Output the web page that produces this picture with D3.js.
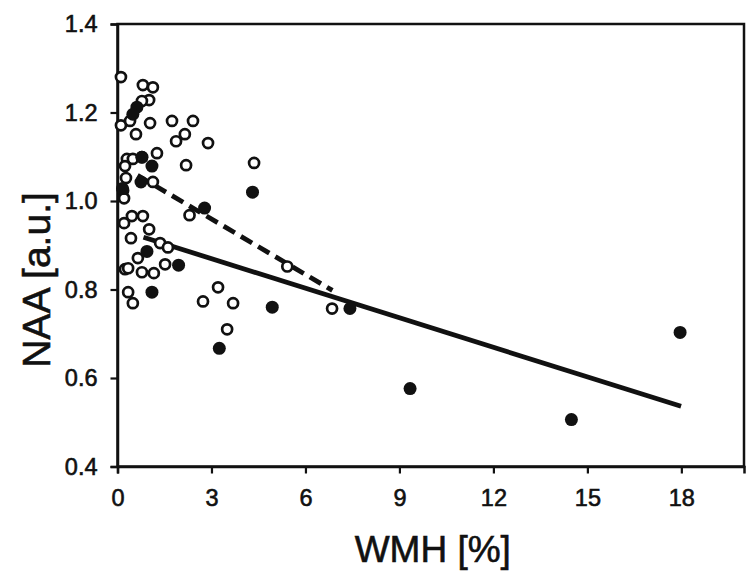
<!DOCTYPE html>
<html><head><meta charset="utf-8">
<script src="https://cdn.jsdelivr.net/npm/d3@7"></script>
<style>
html,body{margin:0;padding:0;background:#fff;}
svg{display:block;}
text{font-family:"Liberation Sans",Arial,sans-serif;fill:#111;}
</style></head><body>
<svg id="chart" width="756" height="577"></svg>
<script>
// Open circles: WMH [%] and NAA [a.u.]
const openX = [0.11,0.81,1.13,1.01,0.78,0.11,0.40,1.04,0.59,1.74,2.41,2.15,1.87,2.89,4.36,2.19,1.26,0.30,0.49,0.78,0.24,0.27,1.13,0.18,0.21,2.30,0.21,0.46,0.81,1.01,0.43,1.36,1.61,0.65,1.52,0.24,0.34,0.78,1.16,5.42,3.21,0.34,0.49,2.73,3.69,3.50,6.85];
const openY = [1.280,1.262,1.257,1.228,1.226,1.171,1.181,1.176,1.151,1.181,1.181,1.151,1.135,1.131,1.086,1.081,1.108,1.095,1.095,1.099,1.079,1.052,1.043,1.024,1.006,0.968,0.950,0.966,0.966,0.936,0.916,0.905,0.895,0.871,0.857,0.846,0.848,0.839,0.837,0.852,0.805,0.794,0.769,0.773,0.769,0.710,0.757];
// Filled circles
const fillX = [0.62,0.49,1.10,0.78,0.75,0.16,4.31,2.78,0.94,1.95,1.10,4.94,7.42,3.25,9.34,14.49,17.96];
const fillY = [1.212,1.196,1.079,1.099,1.043,1.028,1.020,0.984,0.886,0.855,0.794,0.760,0.757,0.667,0.576,0.506,0.703];
// Regression lines (endpoints)
const solidX = [0.83,17.99];
const solidY = [0.918,0.536];
const dashX = [0.64,6.86];
const dashY = [1.058,0.798];
// Axes
const xTicks = [0,3,6,9,12,15,18];
const yTicks = [0.4,0.6,0.8,1.0,1.2,1.4];
const xTitle = "WMH [%]";
const yTitle = "NAA [a.u.]";

const svg = d3.select("#chart");
const L=117.5, R=744, T=24, B=466.5;
const x = d3.scaleLinear().domain([0,20]).range([L,R]);
const y = d3.scaleLinear().domain([0.4,1.4]).range([B,T]);

// frame
svg.append("rect").attr("x",L).attr("y",T).attr("width",R-L).attr("height",B-T)
  .attr("fill","none").attr("stroke","#111").attr("stroke-width",2.5);

const xa = svg.append("g").attr("transform",`translate(0,${B})`)
  .call(d3.axisBottom(x).tickValues(xTicks).tickSize(7).tickPadding(16).tickFormat(d3.format("d")));
const ya = svg.append("g").attr("transform",`translate(${L},0)`)
  .call(d3.axisLeft(y).tickValues(yTicks).tickSize(7).tickPadding(13).tickFormat(d3.format(".1f")));
[xa,ya].forEach(g=>{
  g.select(".domain").attr("stroke","#111").attr("stroke-width",2.5);
  g.selectAll(".tick line").attr("stroke","#111").attr("stroke-width",2.2);
  g.selectAll(".tick text").attr("font-size",23.5).attr("fill","#111")
    .attr("stroke","#111").attr("stroke-width",0.6)
    .attr("font-family","Liberation Sans, Arial, sans-serif");
});

// regression lines
const line = d3.line().x(d=>x(d[0])).y(d=>y(d[1]));
svg.append("path").datum(solidX.map((v,i)=>[v,solidY[i]])).attr("d",line)
  .attr("fill","none").attr("stroke","#111").attr("stroke-width",4.8);
svg.append("path").datum(dashX.map((v,i)=>[v,dashY[i]])).attr("d",line)
  .attr("fill","none").attr("stroke","#111").attr("stroke-width",4.8).attr("stroke-dasharray","13,7");

// points
svg.append("g").selectAll("circle").data(openX.map((v,i)=>[v,openY[i]])).join("circle")
  .attr("cx",d=>x(d[0])).attr("cy",d=>y(d[1])).attr("r",5)
  .attr("fill","#fff").attr("stroke","#111").attr("stroke-width",2.7);
svg.append("g").selectAll("circle").data(fillX.map((v,i)=>[v,fillY[i]])).join("circle")
  .attr("cx",d=>x(d[0])).attr("cy",d=>y(d[1])).attr("r",6.5).attr("fill","#111");

// titles
svg.append("text").attr("x",(L+R)/2+2).attr("y",562).attr("text-anchor","middle")
  .attr("font-size",37).attr("stroke","#111").attr("stroke-width",0.6).text(xTitle);
svg.append("text").attr("transform","translate(50,280) rotate(-90)").attr("text-anchor","middle")
  .attr("font-size",39).attr("stroke","#111").attr("stroke-width",0.6).text(yTitle);
</script></body></html>
